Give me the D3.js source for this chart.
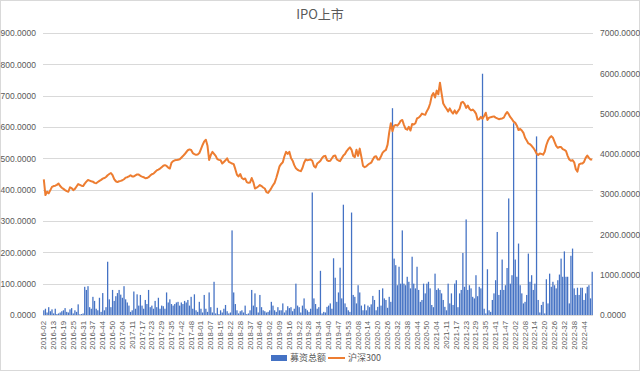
<!DOCTYPE html>
<html><head><meta charset="utf-8">
<script src="https://cdn.jsdelivr.net/npm/d3@7"></script>
<style>
html,body{margin:0;padding:0;background:#fff;}
svg{display:block;font-family:"Noto Sans CJK SC","Noto Sans",sans-serif;}
</style></head>
<body><svg id="c" width="640" height="371"></svg>
<script>
const title = "IPO上市";
const seriesNames = ["募资总额", "沪深300"];
const tickLabels = ["2016-02","2016-13","2016-19","2016-25","2016-31","2016-37","2016-44","2016-50","2017-04","2017-11","2017-17","2017-23","2017-29","2017-35","2017-42","2017-48","2018-01","2018-07","2018-15","2018-22","2018-28","2018-37","2018-46","2019-02","2019-09","2019-16","2019-22","2019-28","2019-34","2019-40","2019-47","2019-53","2020-08","2020-14","2020-20","2020-26","2020-32","2020-38","2020-44","2020-50","2021-04","2021-11","2021-17","2021-23","2021-29","2021-35","2021-41","2021-47","2022-02","2022-08","2022-14","2022-20","2022-26","2022-32","2022-38","2022-44"];
const leftTicks = [0,100,200,300,400,500,600,700,800,900];
const rightTicks = [0,1000,2000,3000,4000,5000,6000,7000];
const funds = [
15,20,8,25,12,18,5,20,3,5,8,12,
15,22,10,8,18,22,5,15,10,34,2,3,
5,90,80,92,25,20,58,45,20,15,55,10,
70,15,25,170,50,25,80,45,60,70,80,65,
55,92,50,40,30,10,15,75,20,66,30,64,
30,20,48,35,80,25,30,20,45,25,55,20,
30,28,20,72,40,50,35,30,35,40,42,30,
40,35,45,40,48,30,58,20,66,15,10,42,
20,8,64,20,10,72,25,8,106,5,23,3,
15,8,20,32,12,5,8,270,72,35,15,5,
12,15,8,30,3,5,15,80,30,69,25,8,
64,25,15,12,8,10,15,42,30,15,10,25,
15,15,37,8,15,28,22,25,12,20,100,30,
25,8,30,53,20,15,10,20,391,53,35,20,
25,141,5,10,8,26,30,37,20,181,119,42,
72,151,53,352,37,25,15,10,327,64,58,37,
95,72,30,15,34,15,30,25,34,61,48,15,
26,80,30,85,53,48,23,58,42,660,180,159,
95,154,100,270,100,95,122,106,85,186,100,85,
154,80,42,48,100,69,100,106,85,32,25,132,
80,85,80,69,48,26,15,100,37,69,32,100,
111,25,69,80,198,90,305,80,95,85,58,53,
127,60,90,85,770,20,5,146,15,10,48,69,
111,265,64,80,177,80,95,150,372,100,127,612,
177,122,228,95,69,37,42,64,196,106,127,80,
100,570,48,8,32,42,5,114,37,132,90,106,
95,85,111,129,180,122,203,122,122,37,189,212,
85,64,87,64,87,87,48,69,90,95,53,138];
const hs300 = [
3366,2977,3060,3020,3100,3180,3200,3210,3230,3265,3200,3160,
3130,3100,3075,3060,3170,3150,3100,3130,3190,3250,3230,3210,
3200,3260,3310,3350,3335,3320,3310,3280,3270,3300,3330,3355,
3385,3400,3425,3470,3500,3525,3470,3370,3320,3300,3320,3330,
3345,3370,3410,3420,3440,3470,3440,3440,3465,3490,3485,3455,
3435,3420,3395,3400,3420,3460,3495,3510,3550,3590,3610,3635,
3670,3705,3720,3700,3660,3635,3780,3820,3840,3845,3855,3865,
3905,3945,3990,4040,4090,4110,4095,4020,3995,3975,3985,4020,
4120,4220,4310,4350,4200,3850,3970,4050,4000,3950,3870,3850,
3840,3760,3800,3840,3890,3800,3780,3760,3745,3620,3480,3440,
3500,3400,3370,3390,3300,3280,3290,3400,3300,3140,3160,3190,
3225,3200,3165,3140,3050,3030,3085,3150,3220,3280,3400,3540,
3690,3750,3790,3940,4050,4000,4050,3900,3830,3720,3640,3605,
3585,3570,3650,3780,3860,3840,3850,3860,3830,3700,3660,3760,
3790,3830,3900,3940,3950,3845,3820,3830,3890,3950,3960,3860,
3835,3820,3890,3960,3995,4070,4120,4160,4100,3950,3920,4100,
3950,4130,3925,3700,3670,3690,3730,3760,3780,3860,3930,3940,
3860,3860,3940,4030,4070,4100,4230,4530,4760,4560,4700,4715,
4700,4750,4820,4840,4720,4620,4600,4670,4580,4740,4730,4760,
4880,4900,4940,5000,4980,4970,5060,5130,5250,5440,5510,5400,
5570,5480,5765,5500,5250,5180,5120,5050,5130,5050,5000,5080,
5000,5060,5120,5270,5290,5240,5140,5200,5120,5080,5100,5060,
5000,4850,4860,4920,4870,4940,5020,4840,4900,4910,4920,4930,
4900,4880,4860,4870,4880,4900,4980,5040,4985,4910,4860,4800,
4770,4700,4590,4620,4580,4520,4400,4330,4260,4240,4200,4150,
4090,4010,3970,4010,4000,3980,4050,4220,4330,4400,4440,4400,
4300,4200,4150,4170,4170,4120,4100,4070,3950,3860,3830,3845,
3790,3620,3560,3740,3760,3760,3800,3900,3960,3900,3860,3860];
const tickEvery = 6;

const svg = d3.select("#c");
const W = 640, H = 371;
const plot = {left: 43, right: 593, top: 33, bottom: 315};
const textColor = "#595959";
const blue = "#4472C4", orange = "#ED7D31";

svg.append("rect").attr("x",0.5).attr("y",0.5).attr("width",W-1).attr("height",H-1)
  .attr("fill","#fff").attr("stroke","#D9D9D9");

const idx = funds.map((d,i)=>i);
const x = d3.scaleBand().domain(idx).range([plot.left, plot.right]).paddingInner(0.22).paddingOuter(0.1);
const yL = d3.scaleLinear().domain([0,900]).range([plot.bottom, plot.top]);
const yR = d3.scaleLinear().domain([0,7000]).range([plot.bottom, plot.top]);
const fmt = d3.format(".4f");

// gridlines
svg.append("g").selectAll("line").data(leftTicks).join("line")
  .attr("x1",plot.left).attr("x2",plot.right)
  .attr("y1",d=>Math.round(yL(d))+0.5).attr("y2",d=>Math.round(yL(d))+0.5)
  .attr("stroke","#D9D9D9").attr("stroke-width",1);

// left axis
const axL = svg.append("g").attr("transform",`translate(${plot.left-7},0)`)
  .call(d3.axisLeft(yL).tickValues(leftTicks).tickFormat(fmt).tickSize(0).tickPadding(0));
axL.select(".domain").remove();
axL.selectAll("text").attr("fill",textColor).attr("font-size",8.5);

// right axis
const axR = svg.append("g").attr("transform",`translate(${plot.right+7},0)`)
  .call(d3.axisRight(yR).tickValues(rightTicks).tickFormat(fmt).tickSize(0).tickPadding(0));
axR.select(".domain").remove();
axR.selectAll("text").attr("fill",textColor).attr("font-size",8.5);

// bars
svg.append("g").selectAll("rect").data(funds).join("rect")
  .attr("x",(d,i)=>x(i)).attr("width",x.bandwidth())
  .attr("y",d=>yL(d)).attr("height",d=>yL(0)-yL(d))
  .attr("fill",blue);

// baseline
svg.append("line").attr("x1",plot.left).attr("x2",plot.right)
  .attr("y1",plot.bottom+0.5).attr("y2",plot.bottom+0.5).attr("stroke","#D9D9D9");

// line
const line = d3.line().x((d,i)=>x(i)+x.bandwidth()/2).y(d=>yR(d)).curve(d3.curveLinear);
svg.append("path").datum(hs300).attr("d",line)
  .attr("fill","none").attr("stroke",orange).attr("stroke-width",2).attr("stroke-linejoin","round");

// x axis labels
const xt = idx.filter(i=>i%tickEvery===0);
const axX = svg.append("g").attr("transform",`translate(0,${plot.bottom+6})`)
  .call(d3.axisBottom(x).tickValues(xt).tickFormat(i=>tickLabels[i/tickEvery]).tickSize(0).tickPadding(0));
axX.select(".domain").remove();
axX.selectAll("text").attr("fill",textColor).attr("font-size",7.8)
  .attr("text-anchor","end").attr("dy","0.32em")
  .attr("transform","rotate(-90)").attr("x",0).attr("y",0);

// title
svg.append("text").attr("x",W/2).attr("y",19).attr("text-anchor","middle")
  .attr("fill",textColor).attr("font-size",13).text(title);

// legend
const lg = svg.append("g").attr("font-size",9).attr("fill",textColor);
lg.append("rect").attr("x",271).attr("y",355).attr("width",16).attr("height",6).attr("fill",blue);
lg.append("text").attr("x",290).attr("y",358).attr("dy","0.35em").attr("fill",textColor).text(seriesNames[0]);
lg.append("line").attr("x1",328).attr("x2",345).attr("y1",358).attr("y2",358).attr("stroke",orange).attr("stroke-width",2);
lg.append("text").attr("x",348).attr("y",358).attr("dy","0.35em").attr("fill",textColor).text(seriesNames[1]);
</script></body></html>
